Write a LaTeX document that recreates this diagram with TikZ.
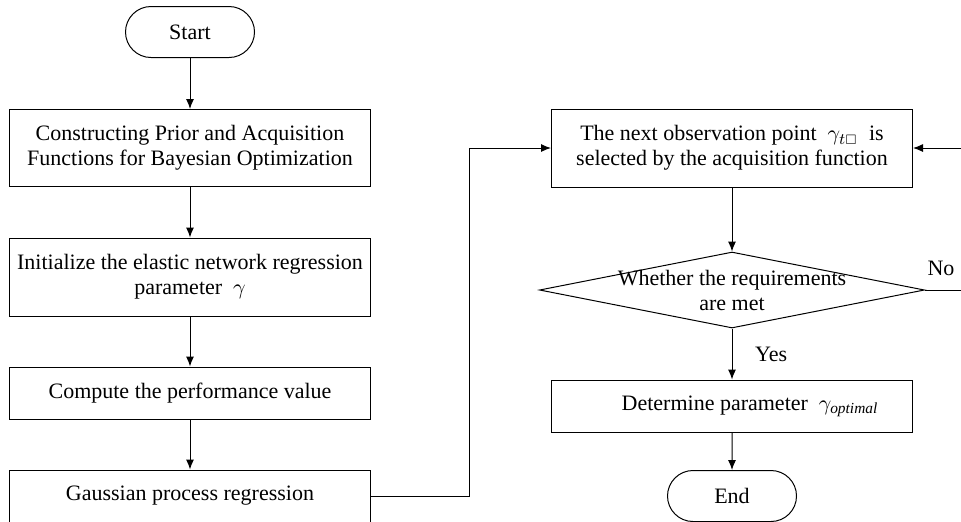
\documentclass[tikz,border=0pt]{standalone}
\usepackage{amsfonts, amssymb, amsmath}
\usepackage{fontspec}
\setmainfont{Liberation Serif}
\usepackage{tikz}
\usetikzlibrary{arrows.meta}
\usetikzlibrary{shapes.geometric}
\usetikzlibrary{shapes.misc}
\tikzset{l/.style={font=\fontsize{11}{12.5}\selectfont}}
\tikzset{b/.style={draw, rectangle, minimum width=180.5pt, inner sep=0pt, align=center, l}}
\tikzset{t/.style={draw, rounded rectangle, minimum width=64.5pt, minimum height=25.5pt, inner sep=0pt, l}}
\tikzset{d/.style={draw, diamond, minimum width=192.5pt, minimum height=38pt, inner sep=0pt}}

\begin{document}
\begin{tikzpicture}[x=0.5pt, y=-0.5pt, line width=0.5pt, >={Latex[length=5pt, width=4pt]}]
        \useasboundingbox (0,0) rectangle (961,521);
        \node [t] (start) at (190, 32) {Start};
        \node [b, minimum height=38.5pt] (prior) at (190, 148) {Constructing Prior and Acquisition\\Functions for Bayesian Optimization}
          edge [<-] (start);
        \node [b, minimum height=39pt] (init) at (190, 277) {Initialize the elastic network regression\\parameter \ $\gamma$}
          edge [<-] (prior);
        \node [b, minimum height=26pt] (perf) at (190, 393) {Compute the performance value}
          edge [<-] (init);
        \node [b, minimum height=26pt] (gpr) at (190, 496) {Gaussian process regression}
          edge [<-] (perf);
        \node [b, minimum height=39pt] (next) at (732, 148) {The next observation point \ $\gamma_{t\scriptscriptstyle\square}$ \ is\\selected by the acquisition function};
        \node [d, label={[align=center, l]center:Whether the requirements\\are met}] (check) at (732, 290) {}
          edge [<-] (next);
        \node [b, minimum height=26pt] (opt) at (732, 406) {\hspace{18pt}Determine parameter \ $\gamma_{\mathit{optimal}}$}
          edge [<-] node [right, l, xshift=8pt] {Yes} (check);
        \node [t] (stop) at (732, 496) {End}
          edge [<-] (opt);
        \coordinate (loop) at (975, 290);
        \draw [->] (gpr.east) -| (469, 148) -- (next.west);
        \draw [->] (check.east) -- (loop) |- (next.east);
        \node [l] (no) at (941, 268) {No};
\end{tikzpicture}
\end{document}
